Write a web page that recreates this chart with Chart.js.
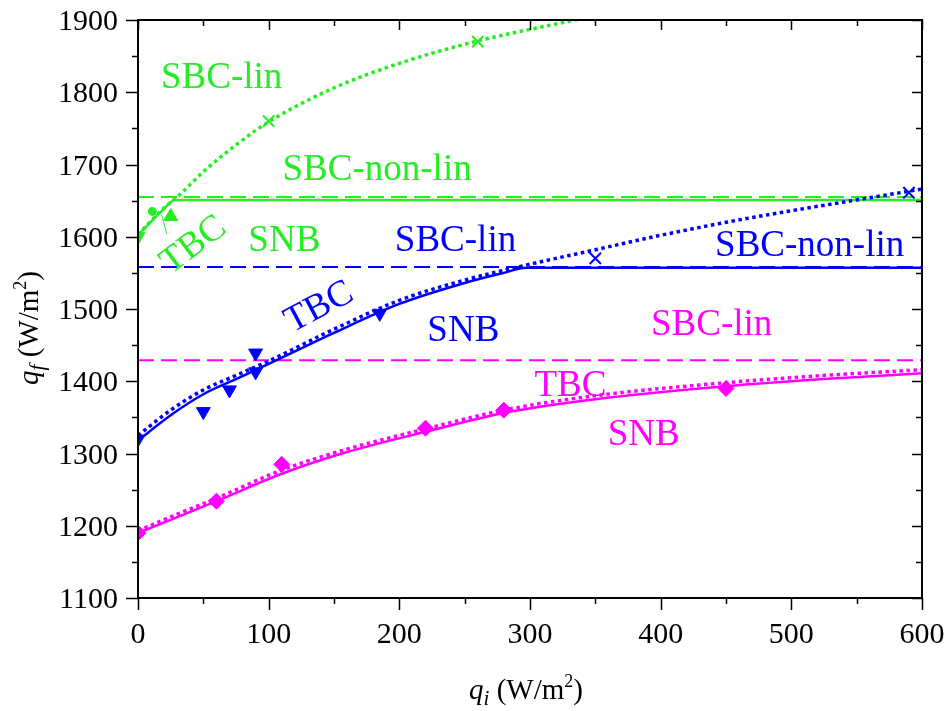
<!DOCTYPE html>
<html><head><meta charset="utf-8">
<script src="https://cdn.jsdelivr.net/npm/chart.js@4/dist/chart.umd.min.js"></script>
<style>html,body{margin:0;padding:0;background:#fff;}
#wrap{position:relative;width:949px;height:711px;overflow:hidden;}
#c{position:absolute;left:0;top:0;}
#t{position:absolute;left:0;top:0;width:949px;height:711px;pointer-events:none;}
#t span.lbl{position:absolute;white-space:nowrap;line-height:1;font-family:"Liberation Serif";color:#000;}
#t .sub{font-size:21px;font-style:italic;position:relative;top:6px;line-height:1;}
#t .sup{font-size:18px;position:relative;top:-12px;line-height:1;}
</style>
</head><body>
<div id="wrap">
<canvas id="c" width="949" height="711"></canvas>
<div id="t"></div>
</div>
<script>
// ---- data (q_i in W/m2, q_f in W/m2) ----
const xTicks = [0, 100, 200, 300, 400, 500, 600];
const yTicks = [1100, 1200, 1300, 1400, 1500, 1600, 1700, 1800, 1900];

// green family
const greenSbcLinFitX = [0, 10, 20, 30, 50, 75, 100, 150, 200, 260, 300, 340];
const greenSbcLinFitY = [1603, 1622, 1640, 1655, 1690, 1727, 1759, 1806, 1840, 1871, 1887, 1902];
const greenSbcLinPtsX = [100, 260];
const greenSbcLinPtsY = [1760, 1870];
const greenTbcFitX = [0, 10, 20, 28, 600];
const greenTbcFitY = [1602, 1621, 1639, 1651, 1651];
const greenNonLinX = [0, 600];
const greenNonLinY = [1655, 1655];
const greenTriDownX = [0];
const greenTriDownY = [1600];
const greenTriUpX = [25];
const greenTriUpY = [1628];
const greenDotX = [11];
const greenDotY = [1635];
const greenLeaderX = [18, 22];
const greenLeaderY = [1631, 1604];

// blue family
const blueTbcFitX = [0, 25, 50, 75, 100, 150, 200, 250, 280, 297, 600];
const blueTbcFitY = [1318, 1353, 1382, 1403, 1424, 1467, 1507, 1536, 1550, 1557, 1557];
const blueSbcLinFitX = [0, 25, 50, 75, 100, 150, 200, 250, 300, 350, 400, 450, 500, 550, 600];
const blueSbcLinFitY = [1325, 1360, 1388, 1408, 1428, 1472, 1512, 1540, 1562, 1582, 1602, 1620, 1636, 1651, 1666];
const blueTbcPtsX = [0, 50, 70, 90, 90, 185];
const blueTbcPtsY = [1320, 1358, 1388, 1439, 1413, 1494];
const blueSbcLinPtsX = [350, 590];
const blueSbcLinPtsY = [1570, 1661];
const blueNonLinX = [0, 600];
const blueNonLinY = [1558, 1558];

// magenta family
const magTbcFitX = [0, 30, 60, 110, 160, 220, 280, 350, 450, 525, 600];
const magTbcFitY = [1190, 1212, 1234, 1272, 1302, 1330, 1356, 1375, 1393, 1403, 1411];
const magSbcLinFitX = [0, 30, 60, 110, 160, 220, 280, 350, 450, 525, 600];
const magSbcLinFitY = [1193, 1216, 1238, 1277, 1306, 1334, 1360, 1380, 1398, 1408, 1416];
const magPtsX = [0, 60, 110, 220, 280, 450];
const magPtsY = [1190, 1234, 1285, 1335, 1360, 1390];
const magNonLinX = [0, 600];
const magNonLinY = [1429, 1429];

// region labels
const labelText = ['SBC-lin', 'SBC-non-lin', 'SNB', 'TBC', 'SBC-lin', 'SBC-non-lin', 'SNB', 'TBC', 'SBC-lin', 'TBC', 'SNB'];
const labelX = [64, 183, 112, 41, 243, 514, 249, 138, 439, 331, 387];
const labelY = [1824, 1697, 1598, 1591, 1598, 1591, 1474, 1505, 1482, 1398, 1330];
const labelFamily = ['g', 'g', 'g', 'g', 'b', 'b', 'b', 'b', 'm', 'm', 'm'];
const labelAngle = [0, 0, 0, -37, 0, 0, 0, -28, 0, 0, 0];

// ---- styles ----
const GREEN = '#22ee22', BLUE = '#0000ff', MAG = '#ff00ff';
const COLORS = { g: GREEN, b: BLUE, m: MAG };
const zip = (xs, ys) => xs.map((x, i) => ({ x: x, y: ys[i] }));

function pts(xs, ys, color, style, radius, rot, bw) {
  return { data: zip(xs, ys), showLine: false, pointStyle: style, pointRadius: radius,
    pointRotation: rot || 0, backgroundColor: color, borderColor: color, pointBorderWidth: bw || 1, clip: 0 };
}
function line(xs, ys, color, kind) {
  const d = { data: zip(xs, ys), showLine: true, pointRadius: 0, borderColor: color,
    backgroundColor: color, fill: false, cubicInterpolationMode: 'monotone', clip: 0, borderCapStyle: 'butt' };
  if (kind === 'dash') { d.borderDash = [16, 7]; d.borderWidth = 2; d.cubicInterpolationMode = 'default'; }
  else if (kind === 'dot') { d.borderDash = [3.5, 3.5]; d.borderWidth = 3.5; }
  else if (kind === 'thin') { d.borderWidth = 1; d.cubicInterpolationMode = 'default'; }
  else { d.borderWidth = 2.5; }
  return d;
}

const datasets = [
  pts(greenSbcLinPtsX, greenSbcLinPtsY, GREEN, 'crossRot', 8, 0, 2),
  pts(greenTriDownX, greenTriDownY, GREEN, 'triangle', 8, 180),
  pts(greenTriUpX, greenTriUpY, GREEN, 'triangle', 8, 0),
  pts(greenDotX, greenDotY, GREEN, 'circle', 4, 0),
  pts(blueTbcPtsX, blueTbcPtsY, BLUE, 'triangle', 8, 180),
  pts(blueSbcLinPtsX, blueSbcLinPtsY, BLUE, 'crossRot', 8, 0, 2),
  pts(magPtsX, magPtsY, MAG, 'rectRot', 8, 0),
  line(greenLeaderX, greenLeaderY, GREEN, 'thin'),
  line(greenSbcLinFitX, greenSbcLinFitY, GREEN, 'dot'),
  line(blueSbcLinFitX, blueSbcLinFitY, BLUE, 'dot'),
  line(magSbcLinFitX, magSbcLinFitY, MAG, 'dot'),
  line(greenTbcFitX, greenTbcFitY, GREEN, 'solid'),
  line(blueTbcFitX, blueTbcFitY, BLUE, 'solid'),
  line(magTbcFitX, magTbcFitY, MAG, 'solid'),
  line(greenNonLinX, greenNonLinY, GREEN, 'dash'),
  line(blueNonLinX, blueNonLinY, BLUE, 'dash'),
  line(magNonLinX, magNonLinY, MAG, 'dash')
];

// text layer: real HTML text, positioned with the chart's own scales
function addText(layer, html, x, y, size, color, transform) {
  const s = document.createElement('span');
  s.className = 'lbl';
  s.innerHTML = html;
  s.style.left = x + 'px';
  s.style.top = y + 'px';
  s.style.fontSize = size + 'px';
  s.style.color = color;
  s.style.transform = transform;
  layer.appendChild(s);
}
function drawText(chart) {
  const layer = document.getElementById('t');
  layer.innerHTML = '';
  const a = chart.chartArea, sx = chart.scales.x, sy = chart.scales.y;
  sx.ticks.forEach(t => addText(layer, String(t.value), sx.getPixelForValue(t.value), a.bottom + 35, 30, '#000', 'translate(-50%,-50%)'));
  sy.ticks.forEach(t => addText(layer, String(t.value), a.left - 20, sy.getPixelForValue(t.value), 30, '#000', 'translate(-100%,-50%)'));
  labelText.forEach((t, i) => addText(layer, t, sx.getPixelForValue(labelX[i]), sy.getPixelForValue(labelY[i]), 37,
    COLORS[labelFamily[i]], 'translate(-50%,-50%) rotate(' + labelAngle[i] + 'deg)'));
  addText(layer, '<i>q</i><span class="sub">i</span> (W/m<span class="sup">2</span>)',
    (a.left + a.right) / 2 - 4, 689, 29, '#000', 'translate(-50%,-50%)');
  addText(layer, '<i>q</i><span class="sub">f</span> (W/m<span class="sup">2</span>)',
    28, sy.getPixelForValue(1500) + 19, 29, '#000', 'translate(-50%,-50%) rotate(-90deg)');
}

const decor = {
  id: 'decor',
  afterDraw(chart) {
    const ctx = chart.ctx, a = chart.chartArea, sx = chart.scales.x, sy = chart.scales.y;
    ctx.save();
    ctx.strokeStyle = '#000'; ctx.lineWidth = 2;
    ctx.strokeRect(a.left, a.top, a.right - a.left, a.bottom - a.top);
    ctx.lineWidth = 1.5;
    ctx.beginPath();
    for (let v = sx.min; v <= sx.max; v += 50) {
      const p = Math.round(sx.getPixelForValue(v)) + 0.5, major = v % 100 === 0;
      ctx.moveTo(p, a.bottom); ctx.lineTo(p, a.bottom + (major ? 12 : 6));
      ctx.moveTo(p, a.top); ctx.lineTo(p, a.top + (major ? 10 : 6));
    }
    for (let v = sy.min; v <= sy.max; v += 50) {
      const p = Math.round(sy.getPixelForValue(v)) + 0.5, major = v % 100 === 0;
      ctx.moveTo(a.left, p); ctx.lineTo(a.left - (major ? 12 : 6), p);
      ctx.moveTo(a.right, p); ctx.lineTo(a.right - (major ? 10 : 6), p);
    }
    ctx.stroke();
    ctx.restore();
    drawText(chart);
  }
};

new Chart(document.getElementById('c'), {
  type: 'scatter',
  data: { datasets: datasets },
  options: {
    responsive: false, animation: false, devicePixelRatio: 1,
    layout: { padding: { top: 20, right: 27, left: 0, bottom: 0 } },
    plugins: { legend: { display: false }, tooltip: { enabled: false } },
    scales: {
      x: {
        type: 'linear', min: 0, max: 600,
        afterFit(s) { s.height = 113; s.paddingLeft = 0; s.paddingRight = 0; },
        afterBuildTicks(s) { s.ticks = xTicks.map(v => ({ value: v })); },
        ticks: { display: false },
        grid: { display: false, drawTicks: false }, border: { display: false }
      },
      y: {
        type: 'linear', min: 1100, max: 1900,
        afterFit(s) { s.width = 138; s.paddingTop = 0; s.paddingBottom = 0; },
        afterBuildTicks(s) { s.ticks = yTicks.map(v => ({ value: v })); },
        ticks: { display: false },
        grid: { display: false, drawTicks: false }, border: { display: false }
      }
    }
  },
  plugins: [decor]
});
</script>
</body></html>
